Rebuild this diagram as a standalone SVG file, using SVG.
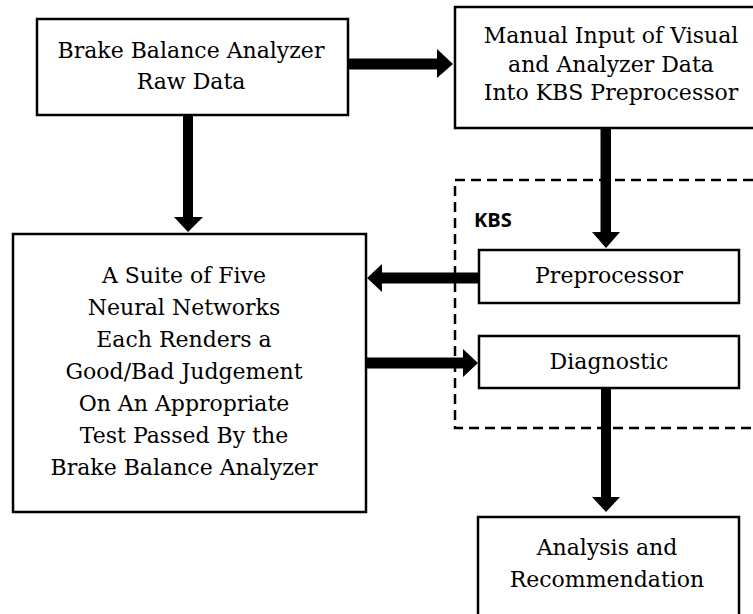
<svg xmlns="http://www.w3.org/2000/svg" width="753" height="614" viewBox="0 0 753 614">
  <style>
    .box { fill: #fff; stroke: #000; stroke-width: 2.5; }
    .kbs { fill: none; stroke: #000; stroke-width: 2.5; stroke-dasharray: 10 6; }
    .lbl { font-family: "DejaVu Serif", "Liberation Serif", serif; font-size: 22px; fill: #000; text-anchor: middle; }
    .tag { font-family: "Open Sans", "Liberation Sans", sans-serif; font-size: 20px; font-weight: bold; fill: #000; }
    .arrow { fill: #000; stroke: none; }
  </style>
  <rect width="753" height="614" fill="#fff"/>

  <!-- KBS boundary -->
  <g id="kbs-group">
    <rect class="kbs" x="455" y="180" width="320" height="248"/>
    <text class="tag" x="474" y="227">KBS</text>
  </g>

  <g id="raw-data">
    <rect class="box" x="37" y="19" width="311" height="96"/>
    <text class="lbl" x="191" y="58">Brake Balance Analyzer</text>
    <text class="lbl" x="191" y="89">Raw Data</text>
  </g>

  <g id="manual-input">
    <rect class="box" x="455" y="7" width="310" height="121"/>
    <text class="lbl" x="611" y="43">Manual Input of Visual</text>
    <text class="lbl" x="611" y="72">and Analyzer Data</text>
    <text class="lbl" x="611" y="100">Into KBS Preprocessor</text>
  </g>

  <g id="neural-suite">
    <rect class="box" x="13" y="234" width="353" height="278"/>
    <text class="lbl" x="184" y="283">A Suite of Five</text>
    <text class="lbl" x="184" y="315">Neural Networks</text>
    <text class="lbl" x="184" y="347">Each Renders a</text>
    <text class="lbl" x="184" y="379">Good/Bad Judgement</text>
    <text class="lbl" x="184" y="411">On An Appropriate</text>
    <text class="lbl" x="184" y="443">Test Passed By the</text>
    <text class="lbl" x="184" y="475">Brake Balance Analyzer</text>
  </g>

  <g id="preprocessor">
    <rect class="box" x="479" y="250" width="260" height="53"/>
    <text class="lbl" x="609" y="283">Preprocessor</text>
  </g>

  <g id="diagnostic">
    <rect class="box" x="479" y="336" width="260" height="52"/>
    <text class="lbl" x="609" y="369">Diagnostic</text>
  </g>

  <g id="analysis">
    <rect class="box" x="478" y="517" width="261" height="110"/>
    <text class="lbl" x="607" y="555">Analysis and</text>
    <text class="lbl" x="607" y="587">Recommendation</text>
  </g>

  <!-- connectors: thick block arrows -->
  <g id="connectors">
    <!-- raw data -> manual input -->
    <polygon class="arrow" points="348,58.5 437,58.5 437,49 453,64 437,78 437,69.5 348,69.5"/>
    <!-- raw data -> neural suite -->
    <polygon class="arrow" points="183,116 193,116 193,217 203,217 188,232 174,217 183,217"/>
    <!-- manual input -> preprocessor -->
    <polygon class="arrow" points="600.5,129 611,129 611,232 620,232 606,248 592,232 600.5,232"/>
    <!-- preprocessor -> neural suite -->
    <polygon class="arrow" points="478,272.5 382,272.5 382,264 367,278 382,292 382,283.5 478,283.5"/>
    <!-- neural suite -> diagnostic -->
    <polygon class="arrow" points="367,357.5 463,357.5 463,349 478,363 463,377 463,368.5 367,368.5"/>
    <!-- diagnostic -> analysis -->
    <polygon class="arrow" points="601,389 611,389 611,497 620,497 606,512 592,497 601,497"/>
  </g>
</svg>
